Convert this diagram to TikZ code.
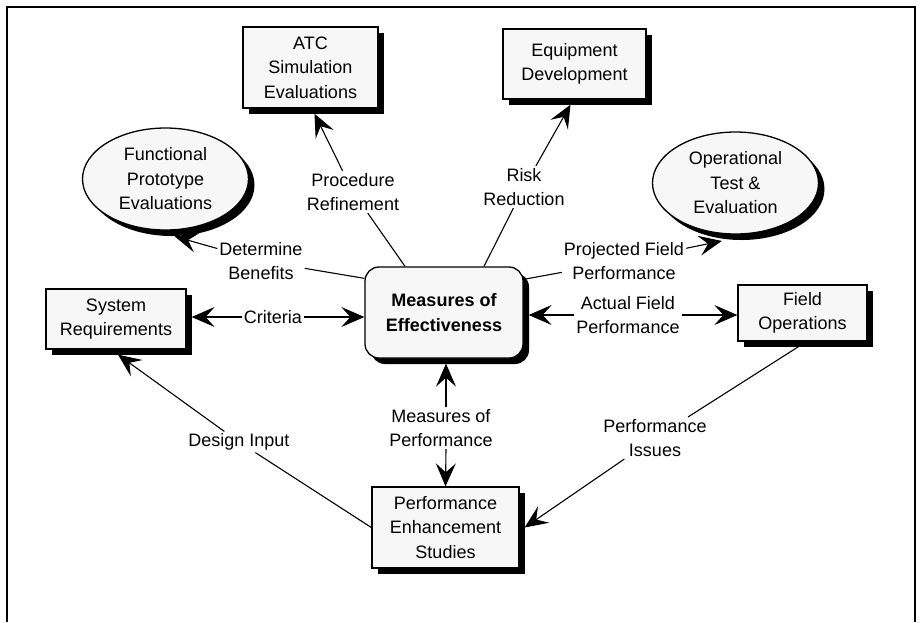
\documentclass[tikz,border=0pt]{standalone}
\usepackage{fontspec}
\setmainfont{Liberation Sans}
\usetikzlibrary{positioning, calc, arrows.meta, shapes.geometric, shadows}

\begin{document}
\begin{tikzpicture}[x=1pt, y=-1pt,
    font=\fontsize{18}{24.5}\selectfont,
    box/.style={draw, line width=1.3pt, fill=black!3, align=center, inner sep=0pt,
      drop shadow={shadow xshift=6pt, shadow yshift=-6pt, fill=black, opacity=1}},
    bubble/.style={box, ellipse, minimum width=166pt, minimum height=102pt},
    lbl/.style={align=center, inner sep=2pt},
    link/.style={line width=1.1pt},
    arr/.style={-{Stealth[length=23pt, width=20pt, inset=9pt]}}]

    % page and frame
    \fill[white] (0,0) rectangle (924,622);
    \useasboundingbox (0,0) rectangle (924,622);
    \draw[line width=1.6pt] (7,622) -- (7,7) -- (915,7) -- (915,622);

    % boxes
    \node[box, minimum width=135pt, minimum height=81pt] (atc) at (310.5,67.5) {ATC\\Simulation\\Evaluations};
    \node[box, minimum width=143pt, minimum height=70pt] (equip) at (574.5,64) {Equipment\\Development};
    \node[box, minimum width=140pt, minimum height=60pt] (sysreq) at (116,319) {System\\Requirements};
    \node[box, minimum width=129pt, minimum height=56pt] (fieldops) at (802.5,313) {Field\\Operations};
    \node[box, minimum width=147pt, minimum height=81pt] (pes) at (445.5,527.5) {Performance\\Enhancement\\Studies};

    % bubbles
    \node[bubble] (func) at (165.5,179) {Functional\\Prototype\\Evaluations};
    \node[bubble] (oper) at (735.5,183) {Operational\\Test \&\\Evaluation};

    % centre
    \node[box, rounded corners=14pt, minimum width=158pt, minimum height=91pt,
      font=\fontsize{18}{24.5}\selectfont\bfseries] (moe) at (444,312.5) {Measures of\\Effectiveness};

    % labels
    \node[lbl] (procLbl) at (353,192) {Procedure\\Refinement};
    \node[lbl] (riskLbl) at (524,187) {Risk\\Reduction};
    \node[lbl] (benLbl) at (261,261) {Determine\\Benefits};
    \node[lbl] (projLbl) at (624,261) {Projected Field\\Performance};
    \node[lbl] (critLbl) at (273,317) {Criteria};
    \node[lbl] (actLbl) at (628,315) {Actual Field\\Performance};
    \node[lbl] (mopLbl) at (441,428) {Measures of\\Performance};
    \node[lbl] (issLbl) at (655,438) {Performance\\Issues};
    \node[lbl] (desLbl) at (239,442) {Design Input};

    % procedure refinement
    \draw[link] ([xshift=-39pt]moe.north) -- (procLbl);
    \draw[link, arr] (procLbl) -- ([xshift=4pt, yshift=-5pt]atc.south);

    % risk reduction
    \draw[link] ([xshift=40pt]moe.north) -- (riskLbl);
    \draw[link, arr] (riskLbl) -- ([xshift=-4pt, yshift=-5pt]equip.south);

    % determine benefits
    \draw[link] ([yshift=-12pt]moe.north west) -- (benLbl);
    \draw[link, arr] (benLbl) -- ([yshift=-6pt]func.-80);

    % projected field performance
    \draw[link] ([yshift=-13pt]moe.north east) -- (projLbl);
    \draw[link, arr] (projLbl) -- ([yshift=-7pt]oper.-105);

    % criteria
    \draw[link, arr] (critLbl) -- ($(critLbl -| sysreq.east)+(5,0)$);
    \draw[link, arr] (critLbl) -- (critLbl -| moe.west);

    % actual field performance
    \draw[link, arr] (actLbl) -- ($(actLbl -| moe.east)+(5,0)$);
    \draw[link, arr] (actLbl) -- (actLbl -| fieldops.west);

    % measures of performance
    \draw[link, arr] ([xshift=5pt]mopLbl.north) -- ([xshift=2pt, yshift=-5pt]moe.south);
    \draw[link, arr] ([xshift=5pt]mopLbl.south) -- (pes.north);

    % performance issues
    \draw[link] ([xshift=-4pt, yshift=-5pt]fieldops.south) -- (issLbl);
    \draw[link, arr] (issLbl) -- ([xshift=5pt]pes.east);

    % design input
    \draw[link] (pes.west) -- (desLbl);
    \draw[link, arr] (desLbl) -- ([xshift=2pt, yshift=-5pt]sysreq.south);

\end{tikzpicture}
\end{document}
